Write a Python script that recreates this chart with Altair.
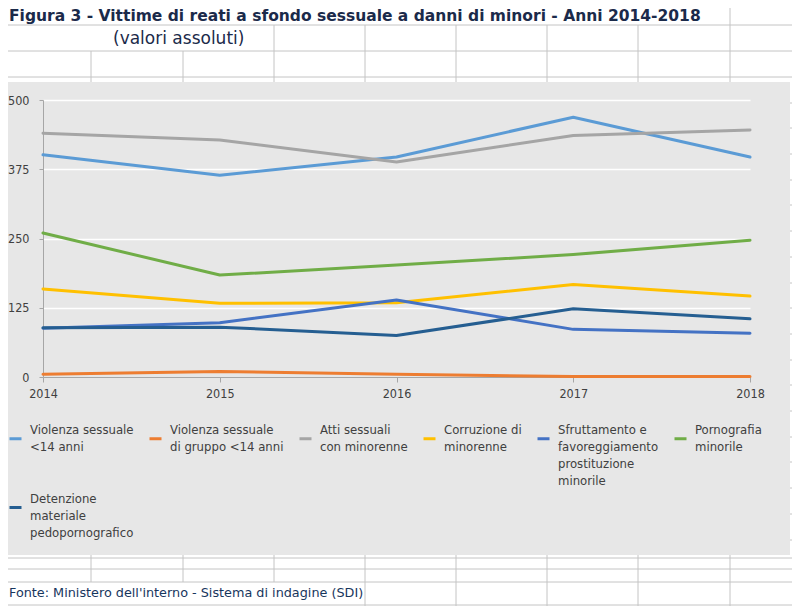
import altair as alt
import pandas as pd

# ---------------- data ----------------
years = [2014, 2015, 2016, 2017, 2018]
series_names = [
    "Violenza sessuale\n<14 anni",
    "Violenza sessuale\ndi gruppo <14 anni",
    "Atti sessuali\ncon minorenne",
    "Corruzione di\nminorenne",
    "Sfruttamento e\nfavoreggiamento\nprostituzione\nminorile",
    "Pornografia\nminorile",
    "Detenzione\nmateriale\npedopornografico",
]
violenza_14 = [401, 364, 397, 469, 397]
violenza_gruppo = [5, 10, 5, 1, 1]
atti_sessuali = [440, 428, 388, 436, 446]
corruzione = [159, 133, 134, 167, 146]
sfruttamento = [88, 98, 139, 86, 79]
pornografia = [260, 184, 202, 221, 247]
detenzione = [89, 90, 75, 123, 105]
series_values = [violenza_14, violenza_gruppo, atti_sessuali, corruzione,
                 sfruttamento, pornografia, detenzione]
y_ticks = [0, 125, 250, 375, 500]

title_text = "Figura 3 - Vittime di reati a sfondo sessuale a danni di minori - Anni 2014-2018"
subtitle_text = "(valori assoluti)"
source_text = "Fonte: Ministero dell'interno - Sistema di indagine (SDI)"

# ---------------- styles ----------------
series_colors = ["#5B9BD5", "#ED7D31", "#A5A5A5", "#FFC000", "#4472C4", "#70AD47", "#255E91"]
FONT = "DejaVu Sans Condensed"
CELL_FONT = "DejaVu Sans"
NAVY = "#1B2A4A"
TXT = "#404040"
CHART_BG = "#E7E7E7"
CELL_LINE = "#C4C4C4"

rows = []
for name, vals in zip(series_names, series_values):
    for yr, v in zip(years, vals):
        rows.append({"anno": yr, "valore": v, "serie": name})
df = pd.DataFrame(rows)

# plot origin on page is (43, 100); helpers convert page px -> group px
OX, OY = 43, 100


def rx(p):
    return p - OX


def ry(p):
    return p - OY


# spreadsheet decoration (white cells outside the chart object + cell lines)
white = pd.DataFrame([
    {"x": rx(0), "x2": rx(800), "y": ry(0), "y2": ry(82)},
    {"x": rx(0), "x2": rx(800), "y": ry(555), "y2": ry(606)},
    {"x": rx(790), "x2": rx(800), "y": ry(82), "y2": ry(555)},
])
seg = []
for yy in [25, 51, 77, 558, 569, 582, 605]:
    seg.append((0, 800, yy, yy))
for yy in [103, 128, 154, 180, 205, 231, 257, 283, 308, 334, 360, 385, 411, 437, 462, 488, 514, 540]:
    seg.append((790, 800, yy, yy))
for xx in [91, 183]:
    seg += [(xx, xx, 51, 82), (xx, xx, 555, 582)]
seg += [(274, 274, 25, 82), (274, 274, 555, 582)]
for xx in [365, 456, 547, 638]:
    seg += [(xx, xx, 25, 82), (xx, xx, 555, 606)]
seg += [(730, 730, 0, 82), (730, 730, 555, 606)]
cells = pd.DataFrame([{"x": rx(a), "x2": rx(b), "y": ry(c), "y2": ry(d)} for a, b, c, d in seg])

white_layer = alt.Chart(white).mark_rect(color="white").encode(
    x=alt.X("x:Q", scale=None), x2="x2:Q",
    y=alt.Y("y:Q", scale=None), y2="y2:Q",
)
cell_layer = alt.Chart(cells).mark_rule(color=CELL_LINE, strokeWidth=1).encode(
    x=alt.X("x:Q", scale=None), x2="x2:Q",
    y=alt.Y("y:Q", scale=None), y2="y2:Q",
)

legend_expr = (
    "length(split(datum.label, '\\n')) == 2 ? "
    "split(datum.label + '\\n \\n ', '\\n') : split(datum.label, '\\n')"
)

lines = alt.Chart(df).mark_line(strokeWidth=3, strokeCap="round", strokeJoin="round").encode(
    x=alt.X("anno:O", scale=alt.Scale(type="point", padding=0),
            axis=alt.Axis(title=None, labelAngle=0, domainColor="#A6A6A6", tickColor="#A6A6A6",
                          tickSize=5, labelPadding=5, labelFont=FONT, labelFontSize=12.5,
                          labelColor=TXT, grid=False)),
    y=alt.Y("valore:Q", scale=alt.Scale(domain=[0, 500], nice=False, zero=True),
            axis=alt.Axis(title=None, values=y_ticks, format="d", domainColor="#A6A6A6",
                          tickColor="#A6A6A6", tickSize=4, labelPadding=10, labelFont=FONT,
                          labelFontSize=12.5, labelColor=TXT, grid=True, gridColor="white",
                          gridWidth=1.6,
                          gridOpacity=alt.condition("datum.value === 0", alt.value(0), alt.value(1)))),
    color=alt.Color("serie:N", scale=alt.Scale(domain=series_names, range=series_colors),
                    legend=alt.Legend(title=None, orient="none", legendX=rx(8), legendY=ry(431),
                                      columns=6, direction="horizontal", symbolType="stroke",
                                      symbolSize=144, symbolStrokeWidth=3, labelFont=FONT,
                                      labelFontSize=13, labelColor=TXT, labelAlign="left",
                                      labelBaseline="line-bottom",
                                      labelExpr=legend_expr, labelLimit=200,
                                      columnPadding=9, rowPadding=4, padding=0, labelOffset=7)),
)

title_layer = alt.Chart(pd.DataFrame({"t": [title_text]})).mark_text(
    align="left", baseline="alphabetic", font=CELL_FONT, fontSize=15.5, fontWeight="bold", color=NAVY
).encode(x=alt.value(rx(9)), y=alt.value(ry(21)), text="t:N")
subtitle_layer = alt.Chart(pd.DataFrame({"t": [subtitle_text]})).mark_text(
    align="left", baseline="alphabetic", font=CELL_FONT, fontSize=17, color=NAVY
).encode(x=alt.value(rx(113)), y=alt.value(ry(44)), text="t:N")
source_layer = alt.Chart(pd.DataFrame({"t": [source_text]})).mark_text(
    align="left", baseline="alphabetic", font=CELL_FONT, fontSize=12.8, color="#17365D"
).encode(x=alt.value(rx(9)), y=alt.value(ry(597)), text="t:N")

chart = alt.layer(white_layer, cell_layer, lines, title_layer, subtitle_layer, source_layer).properties(
    width=707, height=277,
    padding={"left": 35, "top": 92, "right": 42, "bottom": 229},
    autosize=alt.AutoSizeParams(type="none"),
    background=CHART_BG,
).configure(
    style={"guide-label": {"lineHeight": 17}}
).configure_view(stroke=None)

chart.save("out.html", embed_options={"renderer": "svg", "actions": False})
